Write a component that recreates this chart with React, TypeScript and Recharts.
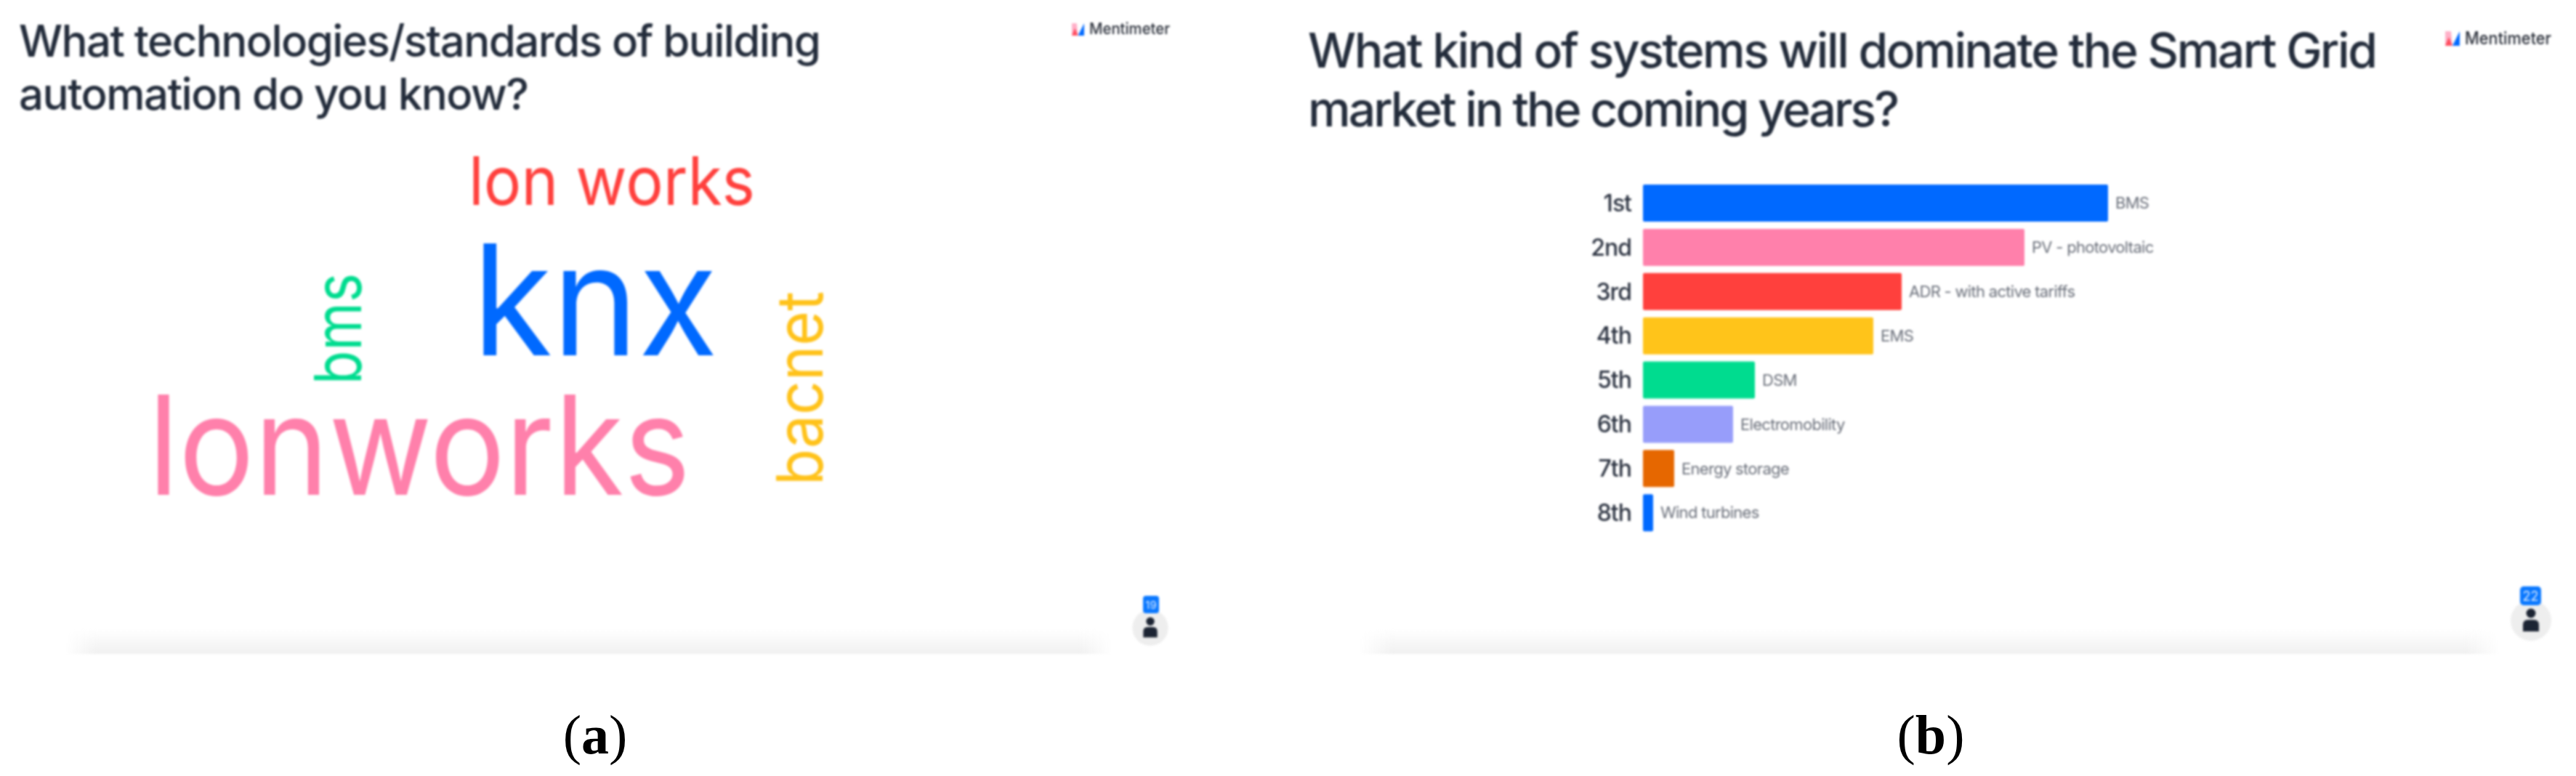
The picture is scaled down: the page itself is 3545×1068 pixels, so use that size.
import React from "react";
import { BarChart, Bar, XAxis, YAxis, Cell, LabelList, ScatterChart, Scatter } from "recharts";

const ranks = ["1st", "2nd", "3rd", "4th", "5th", "6th", "7th", "8th"];
const systems = ["BMS", "PV - photovoltaic", "ADR - with active tariffs", "EMS", "DSM", "Electromobility", "Energy storage", "Wind turbines"];
const scores = [640, 525, 356, 317, 154, 124, 43, 14];
const barColors = ["#0069ff", "#ff80ab", "#ff403d", "#ffc41a", "#00dc8f", "#979dfa", "#e66700", "#0069ff"];

const words = ["lon works", "knx", "lonworks", "bms", "bacnet"];
const wordX = [645, 650, 204, 497, 1132];
const wordY = [282, 489, 681, 529, 668];
const wordWeights = [92, 212, 190, 90, 88];
const wordSpans = [394, 338, 746, 153, 267];
const wordTurned = [false, false, false, true, true];
const wordColors = ["#ff403d", "#0069ff", "#ff80ab", "#00dc8f", "#ffc21a"];

const barData = ranks.map((rank, i) => ({ rank, system: systems[i], score: scores[i] }));
const cloudData = words.map((word, i) => ({
  word, x: wordX[i], y: wordY[i], weight: wordWeights[i], span: wordSpans[i], turned: wordTurned[i], color: wordColors[i],
}));

const FONT = "Inter, 'Noto Sans', sans-serif";

const WordShape = (props: any) => {
  const { cx, cy, payload } = props;
  return (
    <text
      x={cx}
      y={cy}
      fontFamily={FONT}
      fontSize={payload.weight}
      fontWeight={400}
      fill={payload.color}
      textLength={payload.span}
      lengthAdjust="spacingAndGlyphs"
      transform={payload.turned ? `rotate(-90 ${cx} ${cy})` : undefined}
    >
      {payload.word}
    </text>
  );
};

const Person = ({ x, y, s }: { x: number; y: number; s: number }) => (
  <g transform={`translate(${x} ${y}) scale(${s})`}>
    <circle r={28} fill="#eeeeee" />
    <circle cx={0} cy={-10} r={6.5} fill="#1c2433" />
    <path d="M-11 15 L-11 6 Q-11 -1 -4 -1 L4 -1 Q11 -1 11 6 L11 15 Z" fill="#1c2433" />
  </g>
);

const Logo = ({ x, y, s }: { x: number; y: number; s: number }) => (
  <g transform={`translate(${x} ${y}) scale(${s})`}>
    <path d="M0 0 L8 0 L10 20 L0 20 Z" fill="#ffb0c8" />
    <path d="M0 20 L5 8 L10 20 Z" fill="#ff4d5e" />
    <path d="M10 20 L20 0 L20 20 Z" fill="#0069ff" />
  </g>
);

const Overlay = () => (
  <svg width={3545} height={1068} style={{ position: "absolute", left: 0, top: 0 }}>
    <defs>
      <linearGradient id="fade" x1="0" y1="0" x2="0" y2="1">
        <stop offset="0" stopColor="#ffffff" />
        <stop offset="1" stopColor="#f0f0f0" />
      </linearGradient>
      <linearGradient id="ends" x1="0" y1="0" x2="1" y2="0">
        <stop offset="0" stopColor="#000" />
        <stop offset="0.03" stopColor="#fff" />
        <stop offset="0.97" stopColor="#fff" />
        <stop offset="1" stopColor="#000" />
      </linearGradient>
      <mask id="endsA" maskUnits="userSpaceOnUse" x={90} y={860} width={1440} height={50}>
        <rect x={90} y={860} width={1440} height={50} fill="url(#ends)" />
      </mask>
      <mask id="endsB" maskUnits="userSpaceOnUse" x={1870} y={860} width={1570} height={50}>
        <rect x={1870} y={860} width={1570} height={50} fill="url(#ends)" />
      </mask>
    </defs>
    <rect x={90} y={866} width={1440} height={34} fill="url(#fade)" mask="url(#endsA)" />
    <rect x={1870} y={866} width={1570} height={34} fill="url(#fade)" mask="url(#endsB)" />

    <g fontFamily={FONT} fontWeight={500} fill="#232c3b">
      <text x={26} y={78} fontSize={60} textLength={1104} lengthAdjust="spacing">What technologies/standards of building</text>
      <text x={26} y={151} fontSize={60} textLength={702} lengthAdjust="spacing">automation do you know?</text>
      <text x={1800} y={93} fontSize={66} textLength={1472} lengthAdjust="spacing">What kind of systems will dominate the Smart Grid</text>
      <text x={1800} y={174} fontSize={66} textLength={814} lengthAdjust="spacing">market in the coming years?</text>
    </g>

    <Logo x={1475} y={32} s={0.85} />
    <text x={1499} y={47} fontFamily={FONT} fontSize={22} fontWeight={500} fill="#2a2f3a" textLength={111} lengthAdjust="spacingAndGlyphs">Mentimeter</text>
    <Logo x={3365} y={43} s={1} />
    <text x={3392} y={61} fontFamily={FONT} fontSize={24} fontWeight={500} fill="#2a2f3a" textLength={119} lengthAdjust="spacingAndGlyphs">Mentimeter</text>

    <Person x={1583} y={864} s={0.88} />
    <rect x={1573} y={820} width={22} height={24} rx={4} fill="#0a78ff" />
    <text x={1584} y={838} textAnchor="middle" fontFamily={FONT} fontSize={15} fill="#dbeaff">19</text>

    <Person x={3483} y={854} s={1} />
    <rect x={3468} y={807} width={29} height={26} rx={5} fill="#0a78ff" />
    <text x={3482.5} y={827} textAnchor="middle" fontFamily={FONT} fontSize={18} fill="#dbeaff">22</text>
  </svg>
);

export default function App() {
  return (
    <div style={{ position: "absolute", left: 0, top: 0, width: 3545, height: 1068, background: "#ffffff", overflow: "hidden" }}>
      <div style={{ position: "absolute", left: 0, top: 0, width: 3545, height: 1068, filter: "blur(1.6px)" }}>
        <Overlay />
        <div style={{ position: "absolute", left: 0, top: 0 }}>
          <ScatterChart width={1700} height={1068} margin={{ top: 0, right: 0, bottom: 0, left: 0 }}>
            <XAxis type="number" dataKey="x" domain={[0, 1700]} hide />
            <YAxis type="number" dataKey="y" domain={[0, 1068]} reversed hide />
            <Scatter data={cloudData} shape={WordShape} isAnimationActive={false} />
          </ScatterChart>
        </div>
        <div style={{ position: "absolute", left: 2150, top: 230 }}>
          <BarChart
            width={900}
            height={520}
            layout="vertical"
            data={barData}
            margin={{ top: 19, right: 149, bottom: 14, left: 0 }}
            barCategoryGap={5}
          >
            <XAxis type="number" domain={[0, 640]} hide />
            <YAxis
              type="category"
              dataKey="rank"
              width={111}
              axisLine={false}
              tickLine={false}
              tickSize={0}
              tickMargin={16}
              tick={{ fontFamily: FONT, fontSize: 32, fontWeight: 500, fill: "#2b3240", letterSpacing: -1 }}
            />
            <Bar dataKey="score" radius={2} isAnimationActive={false}>
              {barData.map((d, i) => (
                <Cell key={d.rank} fill={barColors[i]} />
              ))}
              <LabelList dataKey="system" position="right" offset={10} style={{ fontFamily: FONT, fontSize: 22, fill: "#6a6f7a", letterSpacing: -0.7 }} />
            </Bar>
          </BarChart>
        </div>
      </div>
      <svg width={3545} height={1068} style={{ position: "absolute", left: 0, top: 0 }}>
        <g fontFamily="'Liberation Serif', serif" fontSize={76} fill="#000" textAnchor="middle">
          <text x={819} y={1037}>(<tspan fontWeight={700}>a</tspan>)</text>
          <text x={2657} y={1037}>(<tspan fontWeight={700}>b</tspan>)</text>
        </g>
      </svg>
    </div>
  );
}
